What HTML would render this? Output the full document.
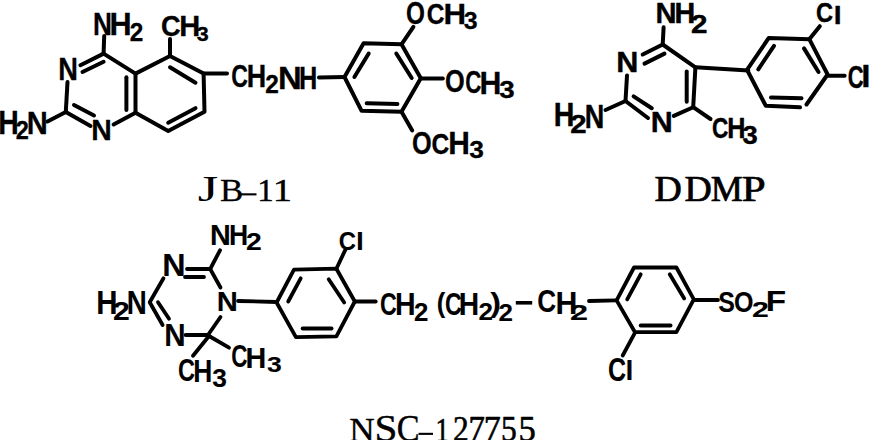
<!DOCTYPE html>
<html><head><meta charset="utf-8"><style>
html,body{margin:0;padding:0;background:#fff;width:871px;height:440px;overflow:hidden}
svg{display:block}
</style></head><body>
<svg width="871" height="440" viewBox="0 0 871 440">
<g fill="none" stroke="#000" stroke-width="4.5" stroke-linecap="round" stroke-linejoin="round">
<rect x="240.5" y="193.3" width="16" height="2.1" fill="#000" stroke="none"/>
<polyline points="104.2,36 103.6,53.6" stroke-width="4.0"/>
<polyline points="170,39 170,56" stroke-width="4.0"/>
<polyline points="47.5,121.5 65.8,112" stroke-width="4.0"/>
<polyline points="103.6,53.6 135.5,73.6 135.5,112.7" stroke-width="4.0"/>
<polyline points="103.6,53.6 80.4,65.2" stroke-width="4.0"/>
<polyline points="82.5,72 103.6,61.8" stroke-width="4.0"/>
<polyline points="65.8,112 67.5,82" stroke-width="4.0"/>
<polyline points="65.8,112 90.5,126" stroke-width="4.0"/>
<polyline points="74,105 94,115.5" stroke-width="4.0"/>
<polyline points="135.5,112.7 113.6,124.5" stroke-width="4.0"/>
<polyline points="126.4,77.3 126.4,110" stroke-width="4.0"/>
<polyline points="135.5,73.6 170,56 203.6,73.6 204.5,111.8 168.2,130.9 135.5,112.7" stroke-width="4.0"/>
<polyline points="170,67.3 195.5,82.7" stroke-width="4.0"/>
<polyline points="168.2,122.7 195.5,108.2" stroke-width="4.0"/>
<polyline points="203.6,73.6 227,73.6" stroke-width="4.0"/>
<polyline points="319,77.5 344.5,77" stroke-width="4.0"/>
<polyline points="344.5,77 363.6,43.3 401.5,44.3 420.8,78.3 401.5,111.8 361.6,110.8 344.5,77" stroke-width="4.0"/>
<polyline points="354.4,77 368.7,53.5" stroke-width="4.0"/>
<polyline points="396.3,53.5 411.7,78" stroke-width="4.0"/>
<polyline points="366.7,103.2 397.4,104" stroke-width="4.0"/>
<polyline points="401.5,44.3 413.4,26.9" stroke-width="4.0"/>
<polyline points="420.8,78.6 442.8,78.6" stroke-width="4.0"/>
<polyline points="401.5,111.8 412.2,130.4" stroke-width="4.0"/>
<polyline points="663.6,27.3 662.7,44.5" stroke-width="4.0"/>
<polyline points="662.7,44.5 695.4,67.3 693.2,107.2" stroke-width="4.0"/>
<polyline points="642.7,54.5 662.7,44.5" stroke-width="4.0"/>
<polyline points="644.5,63.6 664.5,53.6" stroke-width="4.0"/>
<polyline points="686.7,71.6 686.7,101.8" stroke-width="4.0"/>
<polyline points="693.2,107.2 673.8,115.9" stroke-width="4.0"/>
<polyline points="693.2,107.2 710.5,119" stroke-width="4.0"/>
<polyline points="605.5,110 625.5,101" stroke-width="4.0"/>
<polyline points="625.5,101 627,75.5" stroke-width="4.0"/>
<polyline points="625.5,101 648,118" stroke-width="4.0"/>
<polyline points="633.6,96.4 651.8,108.2" stroke-width="4.0"/>
<polyline points="695.4,67.3 748.3,70.5" stroke-width="4.0"/>
<polyline points="806.5,104.5 827.6,74.5 809.3,39.2 768.8,37.9 747,69.8 765.8,105.8 800,107.3" stroke-width="4.0"/>
<polyline points="758.3,69.3 774,45.8" stroke-width="4.0"/>
<polyline points="804,48.4 818.5,72" stroke-width="4.0"/>
<polyline points="771,97.5 801.5,98.3" stroke-width="4.0"/>
<polyline points="809.3,39.2 819.8,26.2" stroke-width="4.0"/>
<polyline points="827.6,75.8 844.6,75.8" stroke-width="4.0"/>
<rect x="418.5" y="432.8" width="14.5" height="2.1" fill="#000" stroke="none"/>
<polyline points="220,250.3 210.2,269" stroke-width="3.8"/>
<polyline points="187,269 210.2,269" stroke-width="3.8"/>
<polyline points="185,277 204,277" stroke-width="3.8"/>
<polyline points="210.2,269 220.5,287.5" stroke-width="3.8"/>
<polyline points="163.5,278.3 149.7,302.2 162.6,325" stroke-width="3.8"/>
<polyline points="158,302.2 169,318.7" stroke-width="3.8"/>
<polyline points="185.6,335 208,335" stroke-width="3.8"/>
<polyline points="208,335 220.5,317" stroke-width="3.8"/>
<polyline points="209,336 229,347.7" stroke-width="3.8"/>
<polyline points="209,336 193,355.8" stroke-width="3.8"/>
<polyline points="238,301 276.6,302" stroke-width="3.8"/>
<polyline points="276.6,302.5 294,269.7 336.4,268.7 354.8,301.5 336.4,336.3 295.9,337.2 276.6,302.5" stroke-width="3.8"/>
<polyline points="288.2,301.5 300.7,278.3" stroke-width="3.8"/>
<polyline points="328.7,279.3 344.2,302.5" stroke-width="3.8"/>
<polyline points="302.6,328.5 331.6,328.5" stroke-width="3.8"/>
<polyline points="336.4,268.7 345.3,249.9" stroke-width="3.8"/>
<polyline points="354.8,301.5 375.7,301.5" stroke-width="3.8"/>
<line x1="515.8" y1="302.8" x2="532.2" y2="302.8" stroke-width="3.6" stroke-linecap="butt"/>
<polyline points="589,301 616.6,300.4" stroke-width="3.8"/>
<polyline points="616.6,300.4 634,267.5 676.4,267.5 693.8,299.4 676.4,332.2 635,332.2 616.6,300.4" stroke-width="3.8"/>
<polyline points="627.2,299.4 640.7,274.3" stroke-width="3.8"/>
<polyline points="669.7,274.3 684.2,298.4" stroke-width="3.8"/>
<polyline points="640.7,325.5 670.6,325.5" stroke-width="3.8"/>
<polyline points="693.8,300 718,300" stroke-width="3.8"/>
<polyline points="634.5,333.6 622.7,355.5" stroke-width="3.8"/>
</g>
<g fill="#000">
<text font-size="31.13" font-family='"Liberation Sans", sans-serif' font-weight="bold" transform="translate(93.08 34.75) scale(0.8421 1)" stroke="#000" stroke-width="0.3" stroke-linejoin="round">N</text>
<text font-size="31.13" font-family='"Liberation Sans", sans-serif' font-weight="bold" transform="translate(109.58 34.75) scale(0.9843 1)" stroke="#000" stroke-width="0.3" stroke-linejoin="round">H</text>
<text font-size="25.09" font-family='"Liberation Sans", sans-serif' font-weight="bold" transform="translate(129.80 40.65) scale(0.9715 1)" stroke="#000" stroke-width="0.3" stroke-linejoin="round">2</text>
<text font-size="29.12" font-family='"Liberation Sans", sans-serif' font-weight="bold" transform="translate(160.96 35.86) scale(0.9333 1)" stroke="#000" stroke-width="0.3" stroke-linejoin="round">C</text>
<text font-size="29.96" font-family='"Liberation Sans", sans-serif' font-weight="bold" transform="translate(179.19 36.15) scale(0.9714 1)" stroke="#000" stroke-width="0.3" stroke-linejoin="round">H</text>
<text font-size="20.70" font-family='"Liberation Sans", sans-serif' font-weight="bold" transform="translate(196.67 41.19) scale(1.0388 1)" stroke="#000" stroke-width="0.3" stroke-linejoin="round">3</text>
<text font-size="31.27" font-family='"Liberation Sans", sans-serif' font-weight="bold" transform="translate(58.31 80.05) scale(0.8709 1)" stroke="#000" stroke-width="0.3" stroke-linejoin="round">N</text>
<text font-size="30.25" font-family='"Liberation Sans", sans-serif' font-weight="bold" transform="translate(91.23 140.35) scale(0.9395 1)" stroke="#000" stroke-width="0.3" stroke-linejoin="round">N</text>
<text font-size="33.02" font-family='"Liberation Sans", sans-serif' font-weight="bold" transform="translate(-1.77 133.55) scale(0.8609 1)" stroke="#000" stroke-width="0.3" stroke-linejoin="round">H</text>
<text font-size="25.95" font-family='"Liberation Sans", sans-serif' font-weight="bold" transform="translate(15.73 139.25) scale(0.9072 1)" stroke="#000" stroke-width="0.3" stroke-linejoin="round">2</text>
<text font-size="30.84" font-family='"Liberation Sans", sans-serif' font-weight="bold" transform="translate(26.79 134.15) scale(0.9439 1)" stroke="#000" stroke-width="0.3" stroke-linejoin="round">N</text>
<text font-size="31.52" font-family='"Liberation Sans", sans-serif' font-weight="bold" transform="translate(231.23 87.13) scale(0.7314 1)" stroke="#000" stroke-width="0.3" stroke-linejoin="round">C</text>
<text font-size="31.71" font-family='"Liberation Sans", sans-serif' font-weight="bold" transform="translate(246.83 87.45) scale(0.8481 1)" stroke="#000" stroke-width="0.3" stroke-linejoin="round">H</text>
<text font-size="25.38" font-family='"Liberation Sans", sans-serif' font-weight="bold" transform="translate(265.30 92.85) scale(0.9605 1)" stroke="#000" stroke-width="0.3" stroke-linejoin="round">2</text>
<text font-size="31.13" font-family='"Liberation Sans", sans-serif' font-weight="bold" transform="translate(277.93 88.55) scale(1.0554 1)" stroke="#000" stroke-width="0.3" stroke-linejoin="round">N</text>
<text font-size="31.13" font-family='"Liberation Sans", sans-serif' font-weight="bold" transform="translate(298.94 88.55) scale(0.8148 1)" stroke="#000" stroke-width="0.3" stroke-linejoin="round">H</text>
<text font-size="31.66" font-family='"Liberation Sans", sans-serif' font-weight="bold" transform="translate(405.88 23.73) scale(0.7680 1)" stroke="#000" stroke-width="0.3" stroke-linejoin="round">O</text>
<text font-size="29.12" font-family='"Liberation Sans", sans-serif' font-weight="bold" transform="translate(426.77 24.16) scale(0.8442 1)" stroke="#000" stroke-width="0.3" stroke-linejoin="round">C</text>
<text font-size="29.96" font-family='"Liberation Sans", sans-serif' font-weight="bold" transform="translate(443.54 24.45) scale(1.0452 1)" stroke="#000" stroke-width="0.3" stroke-linejoin="round">H</text>
<text font-size="23.80" font-family='"Liberation Sans", sans-serif' font-weight="bold" transform="translate(463.79 29.45) scale(1.0471 1)" stroke="#000" stroke-width="0.3" stroke-linejoin="round">3</text>
<text font-size="31.10" font-family='"Liberation Sans", sans-serif' font-weight="bold" transform="translate(444.94 91.84) scale(0.8144 1)" stroke="#000" stroke-width="0.3" stroke-linejoin="round">O</text>
<text font-size="31.80" font-family='"Liberation Sans", sans-serif' font-weight="bold" transform="translate(465.26 93.33) scale(0.7009 1)" stroke="#000" stroke-width="0.3" stroke-linejoin="round">C</text>
<text font-size="31.27" font-family='"Liberation Sans", sans-serif' font-weight="bold" transform="translate(479.60 93.65) scale(0.9688 1)" stroke="#000" stroke-width="0.3" stroke-linejoin="round">H</text>
<text font-size="24.79" font-family='"Liberation Sans", sans-serif' font-weight="bold" transform="translate(499.13 97.84) scale(1.1190 1)" stroke="#000" stroke-width="0.3" stroke-linejoin="round">3</text>
<text font-size="31.24" font-family='"Liberation Sans", sans-serif' font-weight="bold" transform="translate(412.04 153.84) scale(0.8107 1)" stroke="#000" stroke-width="0.3" stroke-linejoin="round">O</text>
<text font-size="30.39" font-family='"Liberation Sans", sans-serif' font-weight="bold" transform="translate(431.47 153.85) scale(0.8089 1)" stroke="#000" stroke-width="0.3" stroke-linejoin="round">C</text>
<text font-size="31.27" font-family='"Liberation Sans", sans-serif' font-weight="bold" transform="translate(448.33 154.15) scale(0.9579 1)" stroke="#000" stroke-width="0.3" stroke-linejoin="round">H</text>
<text font-size="23.80" font-family='"Liberation Sans", sans-serif' font-weight="bold" transform="translate(469.16 157.55) scale(1.1062 1)" stroke="#000" stroke-width="0.3" stroke-linejoin="round">3</text>
<text font-size="35.49" font-family='"Liberation Serif", serif' font-weight="normal" transform="translate(197.75 201.25) scale(1.4758 1)">J</text>
<text font-size="32.24" font-family='"Liberation Serif", serif' font-weight="normal" transform="translate(220.10 200.77) scale(1.0822 1)" stroke="#000" stroke-width="0.3" stroke-linejoin="round">B</text>
<text font-size="31.97" font-family='"Liberation Serif", serif' font-weight="normal" transform="translate(257.32 200.80) scale(1.0293 1)" stroke="#000" stroke-width="0.4" stroke-linejoin="round">1</text>
<text font-size="31.97" font-family='"Liberation Serif", serif' font-weight="normal" transform="translate(272.82 200.80) scale(1.2068 1)" stroke="#000" stroke-width="0.4" stroke-linejoin="round">1</text>
<text font-size="29.82" font-family='"Liberation Sans", sans-serif' font-weight="bold" transform="translate(655.54 23.40) scale(0.9761 1)" stroke="#000" stroke-width="0.4" stroke-linejoin="round">N</text>
<text font-size="29.09" font-family='"Liberation Sans", sans-serif' font-weight="bold" transform="translate(674.56 23.40) scale(0.9888 1)" stroke="#000" stroke-width="0.4" stroke-linejoin="round">H</text>
<text font-size="25.52" font-family='"Liberation Sans", sans-serif' font-weight="bold" transform="translate(690.96 32.50) scale(1.1592 1)" stroke="#000" stroke-width="0.4" stroke-linejoin="round">2</text>
<text font-size="29.67" font-family='"Liberation Sans", sans-serif' font-weight="bold" transform="translate(616.13 71.60) scale(1.0325 1)" stroke="#000" stroke-width="0.4" stroke-linejoin="round">N</text>
<text font-size="32.58" font-family='"Liberation Sans", sans-serif' font-weight="bold" transform="translate(553.77 126.20) scale(0.8777 1)" stroke="#000" stroke-width="0.4" stroke-linejoin="round">H</text>
<text font-size="25.52" font-family='"Liberation Sans", sans-serif' font-weight="bold" transform="translate(570.17 132.50) scale(1.1511 1)" stroke="#000" stroke-width="0.4" stroke-linejoin="round">2</text>
<text font-size="33.89" font-family='"Liberation Sans", sans-serif' font-weight="bold" transform="translate(584.77 128.00) scale(0.7986 1)" stroke="#000" stroke-width="0.4" stroke-linejoin="round">N</text>
<text font-size="29.67" font-family='"Liberation Sans", sans-serif' font-weight="bold" transform="translate(650.84 131.60) scale(1.0268 1)" stroke="#000" stroke-width="0.4" stroke-linejoin="round">N</text>
<text font-size="29.96" font-family='"Liberation Sans", sans-serif' font-weight="bold" transform="translate(711.90 138.10) scale(0.7541 1)" stroke="#000" stroke-width="0.4" stroke-linejoin="round">C</text>
<text font-size="28.95" font-family='"Liberation Sans", sans-serif' font-weight="bold" transform="translate(727.30 138.10) scale(0.8703 1)" stroke="#000" stroke-width="0.4" stroke-linejoin="round">H</text>
<text font-size="25.21" font-family='"Liberation Sans", sans-serif' font-weight="bold" transform="translate(742.58 144.48) scale(1.0843 1)" stroke="#000" stroke-width="0.4" stroke-linejoin="round">3</text>
<text font-size="28.27" font-family='"Liberation Sans", sans-serif' font-weight="bold" transform="translate(815.95 22.22) scale(0.8371 1)" stroke="#000" stroke-width="0.4" stroke-linejoin="round">C</text>
<text font-size="24.55" font-family='"Liberation Sans", sans-serif' font-weight="bold" transform="translate(833.71 23.70) scale(1.1553 1)" stroke="#000" stroke-width="0.4" stroke-linejoin="round">l</text>
<text font-size="31.52" font-family='"Liberation Sans", sans-serif' font-weight="bold" transform="translate(847.82 88.08) scale(0.6975 1)" stroke="#000" stroke-width="0.4" stroke-linejoin="round">C</text>
<text font-size="29.10" font-family='"Liberation Sans", sans-serif' font-weight="bold" transform="translate(861.36 87.30) scale(1.1495 1)" stroke="#000" stroke-width="0.4" stroke-linejoin="round">l</text>
<text font-size="35.13" font-family='"Liberation Serif", serif' font-weight="normal" transform="translate(654.61 200.86) scale(1.0775 1)" stroke="#000" stroke-width="0.7" stroke-linejoin="round">D</text>
<text font-size="35.13" font-family='"Liberation Serif", serif' font-weight="normal" transform="translate(684.51 200.86) scale(1.0775 1)" stroke="#000" stroke-width="0.7" stroke-linejoin="round">D</text>
<text font-size="35.27" font-family='"Liberation Serif", serif' font-weight="normal" transform="translate(710.67 200.95) scale(1.0215 1)" stroke="#000" stroke-width="0.7" stroke-linejoin="round">M</text>
<text font-size="35.27" font-family='"Liberation Serif", serif' font-weight="normal" transform="translate(741.86 200.95) scale(1.2219 1)" stroke="#000" stroke-width="0.7" stroke-linejoin="round">P</text>
<text font-size="29.96" font-family='"Liberation Sans", sans-serif' font-weight="bold" transform="translate(210.11 245.45) scale(0.9600 1)" stroke="#000" stroke-width="0.1" stroke-linejoin="round">N</text>
<text font-size="28.95" font-family='"Liberation Sans", sans-serif' font-weight="bold" transform="translate(229.06 245.45) scale(0.9174 1)" stroke="#000" stroke-width="0.1" stroke-linejoin="round">H</text>
<text font-size="23.94" font-family='"Liberation Sans", sans-serif' font-weight="bold" transform="translate(246.06 250.25) scale(1.1834 1)" stroke="#000" stroke-width="0.1" stroke-linejoin="round">2</text>
<text font-size="31.13" font-family='"Liberation Sans", sans-serif' font-weight="bold" transform="translate(162.17 276.45) scale(1.0390 1)" stroke="#000" stroke-width="0.1" stroke-linejoin="round">N</text>
<text font-size="33.31" font-family='"Liberation Sans", sans-serif' font-weight="bold" transform="translate(96.36 313.95) scale(0.8840 1)" stroke="#000" stroke-width="0.1" stroke-linejoin="round">H</text>
<text font-size="26.38" font-family='"Liberation Sans", sans-serif' font-weight="bold" transform="translate(112.99 320.45) scale(1.1451 1)" stroke="#000" stroke-width="0.1" stroke-linejoin="round">2</text>
<text font-size="33.31" font-family='"Liberation Sans", sans-serif' font-weight="bold" transform="translate(126.78 313.95) scale(0.8329 1)" stroke="#000" stroke-width="0.1" stroke-linejoin="round">N</text>
<text font-size="28.07" font-family='"Liberation Sans", sans-serif' font-weight="bold" transform="translate(216.77 311.35) scale(1.0429 1)" stroke="#000" stroke-width="0.1" stroke-linejoin="round">N</text>
<text font-size="32.00" font-family='"Liberation Sans", sans-serif' font-weight="bold" transform="translate(164.35 346.25) scale(0.9255 1)" stroke="#000" stroke-width="0.1" stroke-linejoin="round">N</text>
<text font-size="31.24" font-family='"Liberation Sans", sans-serif' font-weight="bold" transform="translate(231.15 367.34) scale(0.7185 1)" stroke="#000" stroke-width="0.1" stroke-linejoin="round">C</text>
<text font-size="29.96" font-family='"Liberation Sans", sans-serif' font-weight="bold" transform="translate(245.61 367.65) scale(0.9600 1)" stroke="#000" stroke-width="0.1" stroke-linejoin="round">H</text>
<text font-size="22.68" font-family='"Liberation Sans", sans-serif' font-weight="bold" transform="translate(266.95 372.47) scale(1.1701 1)" stroke="#000" stroke-width="0.1" stroke-linejoin="round">3</text>
<text font-size="31.24" font-family='"Liberation Sans", sans-serif' font-weight="bold" transform="translate(178.01 381.34) scale(0.7527 1)" stroke="#000" stroke-width="0.1" stroke-linejoin="round">C</text>
<text font-size="30.69" font-family='"Liberation Sans", sans-serif' font-weight="bold" transform="translate(193.27 381.65) scale(0.8596 1)" stroke="#000" stroke-width="0.1" stroke-linejoin="round">H</text>
<text font-size="25.92" font-family='"Liberation Sans", sans-serif' font-weight="bold" transform="translate(212.26 386.53) scale(1.0161 1)" stroke="#000" stroke-width="0.1" stroke-linejoin="round">3</text>
<text font-size="26.01" font-family='"Liberation Sans", sans-serif' font-weight="bold" transform="translate(338.70 249.59) scale(0.9158 1)" stroke="#000" stroke-width="0.1" stroke-linejoin="round">C</text>
<text font-size="24.55" font-family='"Liberation Sans", sans-serif' font-weight="bold" transform="translate(356.06 249.85) scale(1.1553 1)" stroke="#000" stroke-width="0.1" stroke-linejoin="round">l</text>
<text font-size="32.08" font-family='"Liberation Sans", sans-serif' font-weight="bold" transform="translate(379.92 315.43) scale(0.7233 1)" stroke="#000" stroke-width="0.1" stroke-linejoin="round">C</text>
<text font-size="31.27" font-family='"Liberation Sans", sans-serif' font-weight="bold" transform="translate(395.03 315.15) scale(0.9117 1)" stroke="#000" stroke-width="0.1" stroke-linejoin="round">H</text>
<text font-size="25.23" font-family='"Liberation Sans", sans-serif' font-weight="bold" transform="translate(414.05 320.95) scale(1.0238 1)" stroke="#000" stroke-width="0.1" stroke-linejoin="round">2</text>
<text font-size="27.24" font-family='"Liberation Sans", sans-serif' font-weight="bold" transform="translate(436.76 311.80) scale(0.9440 1)" stroke="#000" stroke-width="0.1" stroke-linejoin="round">(</text>
<text font-size="31.24" font-family='"Liberation Sans", sans-serif' font-weight="bold" transform="translate(445.12 314.84) scale(0.7429 1)" stroke="#000" stroke-width="0.1" stroke-linejoin="round">C</text>
<text font-size="31.42" font-family='"Liberation Sans", sans-serif' font-weight="bold" transform="translate(458.64 315.15) scale(0.8993 1)" stroke="#000" stroke-width="0.1" stroke-linejoin="round">H</text>
<text font-size="24.23" font-family='"Liberation Sans", sans-serif' font-weight="bold" transform="translate(478.54 320.25) scale(1.0748 1)" stroke="#000" stroke-width="0.1" stroke-linejoin="round">2</text>
<text font-size="28.53" font-family='"Liberation Sans", sans-serif' font-weight="bold" transform="translate(490.17 311.53) scale(1.1268 1)" stroke="#000" stroke-width="0.1" stroke-linejoin="round">)</text>
<text font-size="24.37" font-family='"Liberation Sans", sans-serif' font-weight="bold" transform="translate(498.54 320.95) scale(1.0685 1)" stroke="#000" stroke-width="0.1" stroke-linejoin="round">2</text>
<text font-size="31.38" font-family='"Liberation Sans", sans-serif' font-weight="bold" transform="translate(537.21 311.64) scale(0.8320 1)" stroke="#000" stroke-width="0.1" stroke-linejoin="round">C</text>
<text font-size="31.27" font-family='"Liberation Sans", sans-serif' font-weight="bold" transform="translate(555.60 313.55) scale(0.9688 1)" stroke="#000" stroke-width="0.1" stroke-linejoin="round">H</text>
<text font-size="21.36" font-family='"Liberation Sans", sans-serif' font-weight="bold" transform="translate(569.91 319.55) scale(1.5214 1)" stroke="#000" stroke-width="0.1" stroke-linejoin="round">2</text>
<text font-size="30.11" font-family='"Liberation Sans", sans-serif' font-weight="bold" transform="translate(718.30 311.65) scale(0.8283 1)" stroke="#000" stroke-width="0.1" stroke-linejoin="round">S</text>
<text font-size="30.11" font-family='"Liberation Sans", sans-serif' font-weight="bold" transform="translate(734.05 311.65) scale(0.8316 1)" stroke="#000" stroke-width="0.1" stroke-linejoin="round">O</text>
<text font-size="22.80" font-family='"Liberation Sans", sans-serif' font-weight="bold" transform="translate(751.99 316.95) scale(1.3252 1)" stroke="#000" stroke-width="0.1" stroke-linejoin="round">2</text>
<text font-size="30.40" font-family='"Liberation Sans", sans-serif' font-weight="bold" transform="translate(765.80 310.95) scale(1.0954 1)" stroke="#000" stroke-width="0.1" stroke-linejoin="round">F</text>
<text font-size="32.37" font-family='"Liberation Sans", sans-serif' font-weight="bold" transform="translate(608.05 380.63) scale(0.7736 1)" stroke="#000" stroke-width="0.1" stroke-linejoin="round">C</text>
<text font-size="26.76" font-family='"Liberation Sans", sans-serif' font-weight="bold" transform="translate(625.56 380.45) scale(1.0600 1)" stroke="#000" stroke-width="0.1" stroke-linejoin="round">l</text>
<text font-size="34.20" font-family='"Liberation Serif", serif' font-weight="normal" transform="translate(349.14 440.80) scale(1.0300 1)" stroke="#000" stroke-width="0.4" stroke-linejoin="round">N</text>
<text font-size="37.32" font-family='"Liberation Serif", serif' font-weight="normal" transform="translate(374.42 440.93) scale(1.1030 1)" stroke="#000" stroke-width="0.4" stroke-linejoin="round">S</text>
<text font-size="37.32" font-family='"Liberation Serif", serif' font-weight="normal" transform="translate(396.83 440.93) scale(0.9173 1)" stroke="#000" stroke-width="0.4" stroke-linejoin="round">C</text>
<text font-size="33.48" font-family='"Liberation Serif", serif' font-weight="normal" transform="translate(435.54 440.70) scale(0.8049 1)" stroke="#000" stroke-width="0.6" stroke-linejoin="round">1</text>
<text font-size="35.32" font-family='"Liberation Serif", serif' font-weight="normal" transform="translate(452.88 440.70) scale(0.8918 1)" stroke="#000" stroke-width="0.6" stroke-linejoin="round">2</text>
<text font-size="34.81" font-family='"Liberation Serif", serif' font-weight="normal" transform="translate(468.57 440.70) scale(0.9434 1)" stroke="#000" stroke-width="0.6" stroke-linejoin="round">7</text>
<text font-size="34.81" font-family='"Liberation Serif", serif' font-weight="normal" transform="translate(483.69 440.70) scale(0.9789 1)" stroke="#000" stroke-width="0.6" stroke-linejoin="round">7</text>
<text font-size="35.64" font-family='"Liberation Serif", serif' font-weight="normal" transform="translate(501.09 440.64) scale(0.8853 1)" stroke="#000" stroke-width="0.6" stroke-linejoin="round">5</text>
<text font-size="35.64" font-family='"Liberation Serif", serif' font-weight="normal" transform="translate(518.61 440.64) scale(0.9690 1)" stroke="#000" stroke-width="0.6" stroke-linejoin="round">5</text>
</g>
</svg>
</body></html>
